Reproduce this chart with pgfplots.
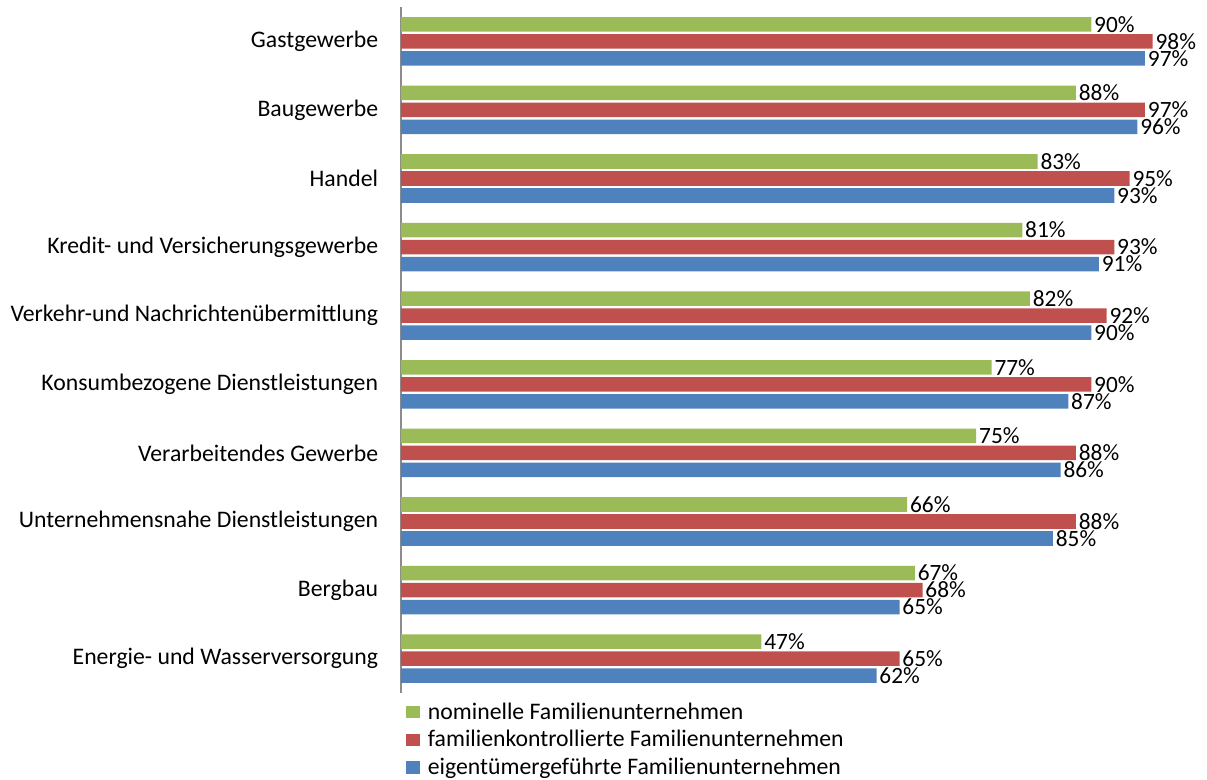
\documentclass[border=0pt]{standalone}
\usepackage{pgfplots}
\pgfplotsset{compat=1.18}
\usepackage{fontspec}
\setmainfont{Carlito}
\definecolor{cgreen}{HTML}{9BBB59}
\definecolor{cred}{HTML}{C0504D}
\definecolor{cblue}{HTML}{4F81BD}
\begin{document}
\begin{tikzpicture}
\begin{axis}[
  width=575.25pt, height=514.5pt, scale only axis,
  xmin=0, xmax=100, ymin=-0.5, ymax=9.5,
  enlargelimits=false, clip=false,
  xbar, bar width=10.9pt,
  axis x line=none, axis y line=left,
  axis line style={-, draw=gray!90, line width=0.8pt},
  major tick length=0,
  ytick={0,...,9},
  yticklabels={Energie- und Wasserversorgung, Bergbau, Unternehmensnahe Dienstleistungen,
    Verarbeitendes Gewerbe, Konsumbezogene Dienstleistungen, Verkehr-und Nachrichtenübermittlung,
    Kredit- und Versicherungsgewerbe, Handel, Baugewerbe, Gastgewerbe},
  yticklabel style={font=\fontsize{17.8}{20}\selectfont, inner xsep=0pt, xshift=-17pt},
  point meta=x,
  nodes near coords={\pgfmathprintnumber{\pgfplotspointmeta}\%},
  /pgf/number format/assume math mode=true,
  every node near coord/.append style={anchor=west, inner xsep=2pt, inner ysep=0pt, font=\fontsize{17.5}{20}\selectfont, black},
  legend style={at={(rel axis cs:0,0)}, anchor=north west, xshift=3.5pt, yshift=-5pt,
    draw=none, inner sep=0pt, fill=none, font=\fontsize{17.8}{20}\selectfont,
    row sep=3pt, cells={anchor=west},
    /tikz/every odd column/.append style={column sep=4pt}},
  legend image code/.code={\fill[#1] (0pt,-4.6pt) rectangle (10.5pt,4.6pt);},
  legend cell align=left,
]
\addplot[fill=cgreen, draw=none, bar shift=12.75pt] coordinates {
(47,0) (67,1) (66,2) (75,3) (77,4) (82,5) (81,6) (83,7) (88,8) (90,9)};
\addplot[fill=cred, draw=none, bar shift=0pt] coordinates {
(65,0) (68,1) (88,2) (88,3) (90,4) (92,5) (93,6) (95,7) (97,8) (98,9)};
\addplot[fill=cblue, draw=none, bar shift=-12.75pt] coordinates {
(62,0) (65,1) (85,2) (86,3) (87,4) (90,5) (91,6) (93,7) (96,8) (97,9)};
\legend{nominelle Familienunternehmen, familienkontrollierte Familienunternehmen, eigentümergeführte Familienunternehmen}
\coordinate (A) at (rel axis cs:0,0);
\coordinate (B) at (rel axis cs:1,1);
\end{axis}
\path (A) ++(-300.75pt,-61.5pt);
\path (B) ++(29.25pt,5.25pt);
\end{tikzpicture}
\end{document}
